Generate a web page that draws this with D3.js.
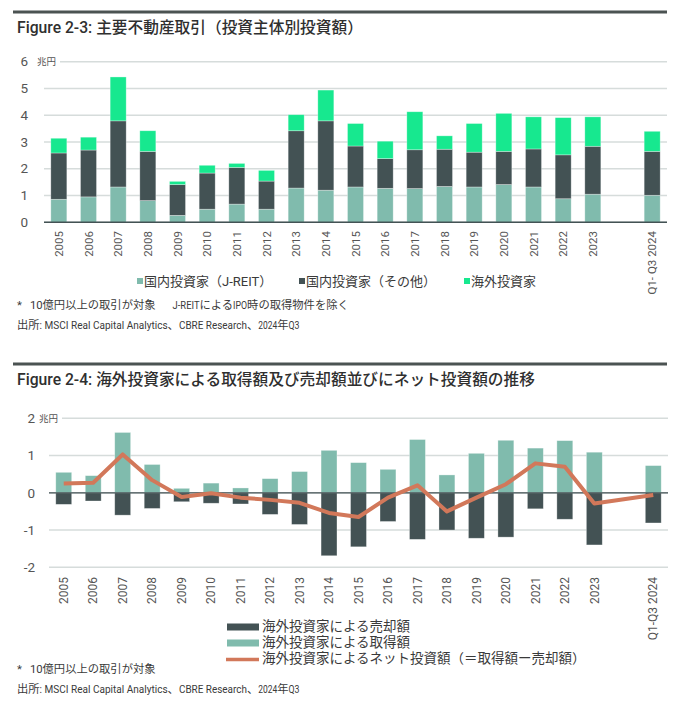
<!DOCTYPE html>
<html>
<head>
<meta charset="utf-8">
<script src="https://cdn.jsdelivr.net/npm/d3@7"></script>
<style>
  body { margin: 0; background: #fff; }
  svg { display: block; font-family: Roboto, "Noto Sans CJK JP", sans-serif; }
</style>
</head>
<body>
<svg id="chart" width="690" height="703"></svg>
<script>
// ---- data (兆円) ----
const years = ["2005","2006","2007","2008","2009","2010","2011","2012","2013","2014",
               "2015","2016","2017","2018","2019","2020","2021","2022","2023","Q1- Q3 2024"];
const years2 = ["2005","2006","2007","2008","2009","2010","2011","2012","2013","2014",
               "2015","2016","2017","2018","2019","2020","2021","2022","2023","Q1-Q3 2024"];

// figure 2-3
const jreit    = [0.86,0.95,1.32,0.81,0.26,0.49,0.68,0.49,1.28,1.20,1.32,1.27,1.26,1.34,1.32,1.41,1.32,0.88,1.05,1.01];
const domestic = [1.73,1.75,2.47,1.84,1.15,1.35,1.37,1.05,2.14,2.59,1.53,1.11,1.45,1.39,1.30,1.24,1.42,1.64,1.79,1.64];
const overseas = [0.55,0.48,1.64,0.77,0.12,0.29,0.15,0.40,0.60,1.15,0.84,0.65,1.42,0.50,1.07,1.42,1.20,1.39,1.10,0.75];
const seriesNames = ["国内投資家（J-REIT）", "国内投資家（その他）", "海外投資家"];
const seriesColors = ["#80BBAD", "#435254", "#17E88F"];

// figure 2-4
const acquired = [0.55,0.46,1.62,0.76,0.12,0.26,0.13,0.38,0.57,1.14,0.81,0.63,1.43,0.48,1.06,1.41,1.20,1.40,1.09,0.73];
const sold     = [-0.31,-0.22,-0.60,-0.42,-0.24,-0.28,-0.30,-0.58,-0.85,-1.69,-1.45,-0.77,-1.25,-1.00,-1.22,-1.19,-0.43,-0.71,-1.40,-0.81];
const net      = [0.25,0.27,1.03,0.34,-0.11,-0.01,-0.13,-0.19,-0.27,-0.54,-0.65,-0.13,0.20,-0.50,-0.13,0.23,0.79,0.70,-0.29,-0.06];
const legend2 = ["海外投資家による売却額", "海外投資家による取得額", "海外投資家によるネット投資額（＝取得額ー売却額）"];

const ticks1 = [0,1,2,3,4,5,6];
const ticks2 = [-2,-1,0,1,2];

const svg = d3.select("#chart");
const textCol = "#3a3a3a";
const tickCol = "#555";
const gridCol = "#d6dcdb";

// slot list with an empty gap before the last period
function slots(cats) {
    return cats.slice(0, 19).concat(["gap"], cats.slice(19));
}

function header(y, title) {
    svg.append("line")
        .attr("x1", 13).attr("x2", 667)
        .attr("y1", y).attr("y2", y)
        .attr("stroke", "#4b5352").attr("stroke-width", 3);
    svg.append("text")
        .attr("x", 17).attr("y", y + 21)
        .attr("font-size", 15.7).attr("font-weight", 500)
        .attr("fill", "#2f2f2f")
        .text(title);
}

function yGrid(g, y, ticks, x0, x1, topStart) {
    const top = d3.max(ticks);
    g.selectAll("line.grid").data(ticks).join("line")
        .attr("class", "grid")
        .attr("x1", d => d === top ? topStart : x0)
        .attr("x2", x1)
        .attr("y1", d => y(d)).attr("y2", d => y(d))
        .attr("stroke", gridCol).attr("stroke-width", 1.5);
}

function yLabels(g, y, ticks, xr, unitX) {
    g.selectAll("text.yl").data(ticks).join("text")
        .attr("class", "yl")
        .attr("x", xr).attr("y", d => y(d))
        .attr("dy", "0.35em")
        .attr("text-anchor", "end")
        .attr("font-size", 13.5)
        .attr("fill", tickCol)
        .text(d => d);
    g.append("text")
        .attr("x", unitX).attr("y", y(d3.max(ticks)))
        .attr("dy", "0.35em")
        .attr("font-size", 9.5)
        .attr("fill", tickCol)
        .text("兆円");
}

function xLabels(g, x, cats, yTop, size) {
    g.selectAll("text.xl").data(cats).join("text")
        .attr("class", "xl")
        .attr("transform", d => `translate(${x(d) + x.bandwidth() / 2},${yTop}) rotate(-90)`)
        .attr("text-anchor", "end")
        .attr("dy", "0.35em")
        .attr("font-size", size)
        .attr("fill", tickCol)
        .text(d => d);
}

// note line made of pieces; [text, squeezedWidth?, gapBefore?]
function note(y, parts) {
    let x = 17;
    parts.forEach(p => {
        x += p[2] || 0;
        const t = svg.append("text")
            .attr("font-size", 11.3)
            .attr("fill", textCol)
            .text(p[0]);
        const w = t.node().getComputedTextLength();
        const k = p[1] ? p[1] / w : 1;
        t.attr("transform", `translate(${x},${y}) scale(${k},1)`);
        x += w * k;
    });
}

// ================= Figure 2-3 =================
header(12, "Figure 2-3: 主要不動産取引（投資主体別投資額）");

const g1 = svg.append("g");
const x1 = d3.scaleBand().domain(slots(years)).range([44, 667])
    .paddingInner(0.46).paddingOuter(0.23);
const y1 = d3.scaleLinear().domain([0, 6]).range([222.3, 61.7]);

yGrid(g1, y1, ticks1, 44, 667, 60);
yLabels(g1, y1, ticks1, 28, 37);

const table1 = years.map((c, i) => ({ cat: c, a: jreit[i], b: domestic[i], c: overseas[i] }));
const stacked = d3.stack().keys(["a", "b", "c"])(table1);

g1.selectAll("g.layer").data(stacked).join("g")
    .attr("class", "layer")
    .attr("fill", (d, i) => seriesColors[i])
    .selectAll("rect").data(d => d).join("rect")
    .attr("x", d => x1(d.data.cat))
    .attr("width", x1.bandwidth())
    .attr("y", d => y1(d[1]))
    .attr("height", d => y1(d[0]) - y1(d[1]))
    .attr("stroke", "#fff").attr("stroke-opacity", 0.45).attr("stroke-width", 0.7);

g1.append("line")
    .attr("x1", 44).attr("x2", 667)
    .attr("y1", y1(0)).attr("y2", y1(0))
    .attr("stroke", "#435254").attr("stroke-width", 1.5);

xLabels(g1, x1, years, 231, 11.5);

// legend
const leg1X = [137, 299, 464];
seriesNames.forEach((n, i) => {
    g1.append("rect")
        .attr("x", leg1X[i]).attr("y", 278)
        .attr("width", 6).attr("height", 6)
        .attr("fill", seriesColors[i]);
    g1.append("text")
        .attr("x", leg1X[i] + 7).attr("y", 281)
        .attr("dy", "0.35em")
        .attr("font-size", 13)
        .attr("fill", textCol)
        .text(n);
});

const sourceParts = [["出所"], [": MSCI Real Capital Analytics", 128], ["、"], ["CBRE Research", 68], ["、"], ["2024", 19], ["年"], ["Q3", 11]];
note(309, [["*"], ["10億円以上の取引が対象", 0, 8], ["J-REIT", 27, 17], ["による"], ["IPO", 14], ["時の取得物件を除く"]]);
note(329, sourceParts);

// ================= Figure 2-4 =================
header(364, "Figure 2-4: 海外投資家による取得額及び売却額並びにネット投資額の推移");

const g2 = svg.append("g");
const x2 = d3.scaleBand().domain(slots(years2)).range([49, 668])
    .paddingInner(0.46).paddingOuter(0.23);
const y2 = d3.scaleLinear().domain([-2, 2]).range([567.3, 418.3]);

yGrid(g2, y2, ticks2, 49, 668, 62);
yLabels(g2, y2, ticks2, 35, 39);

g2.selectAll("rect.sold").data(sold).join("rect")
    .attr("class", "sold")
    .attr("x", (d, i) => x2(years2[i]))
    .attr("width", x2.bandwidth())
    .attr("y", y2(0))
    .attr("height", d => y2(d) - y2(0))
    .attr("fill", "#435254")
    .attr("stroke", "#fff").attr("stroke-opacity", 0.45).attr("stroke-width", 0.7);

g2.selectAll("rect.acq").data(acquired).join("rect")
    .attr("class", "acq")
    .attr("x", (d, i) => x2(years2[i]))
    .attr("width", x2.bandwidth())
    .attr("y", d => y2(d))
    .attr("height", d => y2(0) - y2(d))
    .attr("fill", "#80BBAD")
    .attr("stroke", "#fff").attr("stroke-opacity", 0.45).attr("stroke-width", 0.7);

g2.append("line")
    .attr("x1", 49).attr("x2", 668)
    .attr("y1", y2(0)).attr("y2", y2(0))
    .attr("stroke", "#435254").attr("stroke-width", 1.3);

const netLine = d3.line()
    .x((d, i) => x2(years2[i]) + x2.bandwidth() / 2)
    .y(d => y2(d));

g2.append("path")
    .datum(net)
    .attr("d", netLine)
    .attr("fill", "none")
    .attr("stroke", "#D2785A")
    .attr("stroke-width", 4)
    .attr("stroke-linejoin", "round");

xLabels(g2, x2, years2, 577, 12);

// legend
const leg2Y = [627, 643, 659.5];
legend2.forEach((n, i) => {
    if (i < 2) {
        g2.append("rect")
            .attr("x", 227).attr("y", leg2Y[i] - 3.5)
            .attr("width", 32).attr("height", 7)
            .attr("fill", i === 0 ? "#435254" : "#80BBAD");
    } else {
        g2.append("line")
            .attr("x1", 226).attr("x2", 259)
            .attr("y1", leg2Y[i]).attr("y2", leg2Y[i])
            .attr("stroke", "#D2785A").attr("stroke-width", 3.5);
    }
    g2.append("text")
        .attr("x", 262).attr("y", leg2Y[i] - 1)
        .attr("dy", "0.35em")
        .attr("font-size", 13.5)
        .attr("fill", textCol)
        .text(n);
});

note(673, [["*"], ["10億円以上の取引が対象", 0, 8]]);
note(693, sourceParts);
</script>
</body>
</html>
